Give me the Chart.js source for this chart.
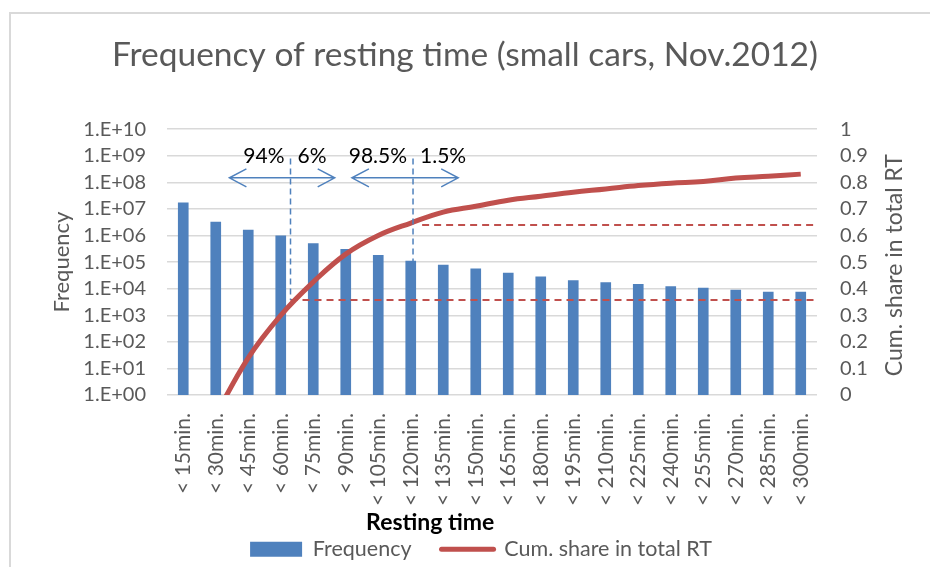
<!DOCTYPE html>
<html lang="en">
<head>
    <meta charset="UTF-8">
    <title>Frequency of resting time</title>
    <script src="https://cdn.jsdelivr.net/npm/chart.js"></script>
    <style>
        body {
            margin: 0;
            background: #fff;
        }
        #wrap {
            position: relative;
            width: 930px;
            height: 567px;
        }
        #frame {
            position: absolute;
            left: 9px;
            top: 12px;
            right: 0;
            bottom: 0;
            border-left: 2px solid #d9d9d9;
            border-top: 2px solid #d9d9d9;
        }
        canvas {
            position: absolute;
            left: 0;
            top: 0;
        }
    </style>
</head>
<body>
    <div id="wrap">
        <div id="frame"></div>
        <canvas id="restChart" width="930" height="567"></canvas>
    </div>

    <script>
        const categories = ['< 15min.', '< 30min.', '< 45min.', '< 60min.', '< 75min.', '< 90min.',
            '< 105min.', '< 120min.', '< 135min.', '< 150min.', '< 165min.', '< 180min.', '< 195min.',
            '< 210min.', '< 225min.', '< 240min.', '< 255min.', '< 270min.', '< 285min.', '< 300min.'];
        const frequency = [1.7e7, 3.2e6, 1.6e6, 9.7e5, 5.0e5, 3.0e5, 1.8e5, 1.1e5, 7.7e4, 5.6e4,
            3.9e4, 2.8e4, 2.0e4, 1.7e4, 1.45e4, 1.2e4, 1.05e4, 8.9e3, 7.4e3, 7.4e3];
        const cumShare = [-0.35, -0.08, 0.14, 0.30, 0.425, 0.53, 0.60, 0.647, 0.688, 0.71,
            0.733, 0.748, 0.763, 0.775, 0.788, 0.797, 0.803, 0.816, 0.823, 0.831];
        const freqTicks = [1e0, 1e1, 1e2, 1e3, 1e4, 1e5, 1e6, 1e7, 1e8, 1e9, 1e10];

        // split markers: category position of the cut, and the shares on each side
        const splitAt = [3.3, 7.07];
        const splitEnd = [0.357, 0.5];
        const splitLeft = ['94%', '98.5%'];
        const splitRight = ['6%', '1.5%'];
        const arrowFrom = [1.42, 5.19];
        const arrowTo = [4.66, 8.46];
        // red reference levels on the share axis
        const levelFrom = [3.3, 7.35];
        const levelValue = [0.357, 0.64];

        const blue = '#4F81BD';
        const red = '#C0504D';
        const grey = '#595959';
        const fontFamily = 'Lato, "Open Sans", sans-serif';

        Chart.defaults.font.family = fontFamily;
        Chart.defaults.color = grey;

        function catPx(x, pos) {
            const a = x.getPixelForValue(0);
            const b = x.getPixelForValue(1);
            return a + pos * (b - a);
        }

        const extras = {
            id: 'extras',
            afterLayout(chart) {
                // legend sits a bit right of centre in the original
                chart.legend.left += 16;
                chart.legend.right += 16;
            },
            afterDatasetsDraw(chart) {
                const ctx = chart.ctx;
                const x = chart.scales.x;
                const y1 = chart.scales.y1;
                const area = chart.chartArea;
                ctx.save();

                // red dashed levels
                ctx.strokeStyle = red;
                ctx.lineWidth = 2;
                ctx.setLineDash([7, 5]);
                levelValue.forEach((v, i) => {
                    const py = y1.getPixelForValue(v);
                    ctx.beginPath();
                    ctx.moveTo(catPx(x, levelFrom[i]), py);
                    ctx.lineTo(area.right, py);
                    ctx.stroke();
                });

                // blue dashed cuts
                ctx.strokeStyle = blue;
                ctx.lineWidth = 1.5;
                ctx.setLineDash([6, 4]);
                const topY = y1.getPixelForValue(0.89);
                splitAt.forEach((s, i) => {
                    const px = catPx(x, s);
                    ctx.beginPath();
                    ctx.moveTo(px, topY);
                    ctx.lineTo(px, y1.getPixelForValue(splitEnd[i]));
                    ctx.stroke();
                });

                // double arrows
                ctx.setLineDash([]);
                ctx.lineWidth = 1.5;
                const ay = y1.getPixelForValue(0.817);
                arrowFrom.forEach((f, i) => {
                    const x0 = catPx(x, f);
                    const x1 = catPx(x, arrowTo[i]);
                    ctx.beginPath();
                    ctx.moveTo(x0, ay);
                    ctx.lineTo(x1, ay);
                    ctx.moveTo(x0 + 17, ay - 9);
                    ctx.lineTo(x0, ay);
                    ctx.lineTo(x0 + 17, ay + 9);
                    ctx.moveTo(x1 - 17, ay - 9);
                    ctx.lineTo(x1, ay);
                    ctx.lineTo(x1 - 17, ay + 9);
                    ctx.stroke();
                });

                // share labels
                ctx.fillStyle = '#000';
                ctx.font = '21px ' + fontFamily;
                ctx.textBaseline = 'middle';
                const ty = y1.getPixelForValue(0.9);
                splitAt.forEach((s, i) => {
                    const px = catPx(x, s);
                    ctx.textAlign = 'right';
                    ctx.fillText(splitLeft[i], px - 6, ty);
                    ctx.textAlign = 'left';
                    ctx.fillText(splitRight[i], px + 7, ty);
                });
                ctx.restore();
            },
            afterDraw(chart) {
                const ctx = chart.ctx;
                const y1 = chart.scales.y1;
                const area = chart.chartArea;
                ctx.save();
                ctx.fillStyle = grey;
                ctx.textAlign = 'center';
                ctx.textBaseline = 'middle';
                ctx.font = '23px ' + fontFamily;
                ctx.translate(y1.right - 23, (area.top + area.bottom) / 2 + 3);
                ctx.rotate(-Math.PI / 2);
                ctx.fillText('Cum. share in total RT', 0, 0);
                ctx.restore();

                ctx.save();
                ctx.fillStyle = '#000';
                ctx.textAlign = 'center';
                ctx.textBaseline = 'middle';
                ctx.font = 'bold 23px ' + fontFamily;
                ctx.fillText('Resting time', catPx(chart.scales.x, 7.6), area.bottom + 128);
                ctx.restore();
            }
        };

        new Chart(document.getElementById('restChart'), {
            data: {
                labels: categories,
                datasets: [{
                    type: 'bar',
                    label: 'Frequency',
                    data: frequency,
                    backgroundColor: blue,
                    barThickness: 10,
                    yAxisID: 'y',
                    order: 1
                }, {
                    type: 'line',
                    label: 'Cum. share in total RT',
                    data: cumShare,
                    borderColor: red,
                    backgroundColor: red,
                    borderWidth: 5,
                    pointRadius: 0,
                    tension: 0.4,
                    clip: 0,
                    yAxisID: 'y1',
                    order: 0
                }]
            },
            options: {
                responsive: false,
                animation: false,
                layout: { padding: { left: 12, right: 12, top: 0, bottom: -3 } },
                plugins: {
                    title: {
                        display: true,
                        text: 'Frequency of resting time (small cars, Nov.2012)',
                        color: grey,
                        font: { size: 33.5, weight: 'normal' },
                        padding: { top: 35, bottom: 54 }
                    },
                    legend: {
                        position: 'bottom',
                        labels: {
                            usePointStyle: true,
                            pointStyleWidth: 52,
                            boxHeight: 15,
                            padding: 30,
                            color: grey,
                            font: { size: 21.5 },
                            sort: (a, b) => a.datasetIndex - b.datasetIndex,
                            generateLabels(chart) {
                                const items = Chart.defaults.plugins.legend.labels.generateLabels(chart);
                                items.forEach(item => {
                                    if (item.datasetIndex === 0) {
                                        item.pointStyle = 'rect';
                                        item.lineWidth = 0;
                                    } else {
                                        item.pointStyle = 'line';
                                        item.lineWidth = 5;
                                        item.lineCap = 'round';
                                        item.strokeStyle = red;
                                    }
                                });
                                return items;
                            }
                        }
                    },
                    tooltip: { enabled: false }
                },
                scales: {
                    x: {
                        type: 'category',
                        offset: true,
                        grid: { display: false, drawTicks: false },
                        border: { display: false },
                        ticks: {
                            autoSkip: false,
                            minRotation: 90,
                            maxRotation: 90,
                            padding: 18,
                            font: { size: 21 }
                        },
                        afterFit(scale) { scale.height = 113.5; }
                    },
                    y: {
                        type: 'logarithmic',
                        position: 'left',
                        min: 1,
                        max: 1e10,
                        afterBuildTicks(scale) {
                            scale.ticks = freqTicks.map(v => ({ value: v }));
                        },
                        ticks: {
                            autoSkip: false,
                            padding: 21,
                            font: { size: 20 },
                            callback: v => '1.E+' + String(Math.round(Math.log10(v))).padStart(2, '0')
                        },
                        grid: { color: '#d9d9d9', lineWidth: 1.5, drawTicks: false },
                        border: { display: false },
                        title: {
                            display: true,
                            text: 'Frequency',
                            color: grey,
                            font: { size: 22 },
                            padding: { top: 37, bottom: 0 }
                        },
                        afterFit(scale) { scale.width = 155; }
                    },
                    y1: {
                        type: 'linear',
                        position: 'right',
                        min: 0,
                        max: 1,
                        ticks: {
                            autoSkip: false,
                            stepSize: 0.1,
                            padding: 23,
                            font: { size: 20 },
                            callback: v => String(Math.round(v * 10) / 10)
                        },
                        grid: { drawOnChartArea: false, drawTicks: false },
                        border: { display: false },
                        afterFit(scale) { scale.width = 101; }
                    }
                }
            },
            plugins: [extras]
        });
    </script>
</body>
</html>
